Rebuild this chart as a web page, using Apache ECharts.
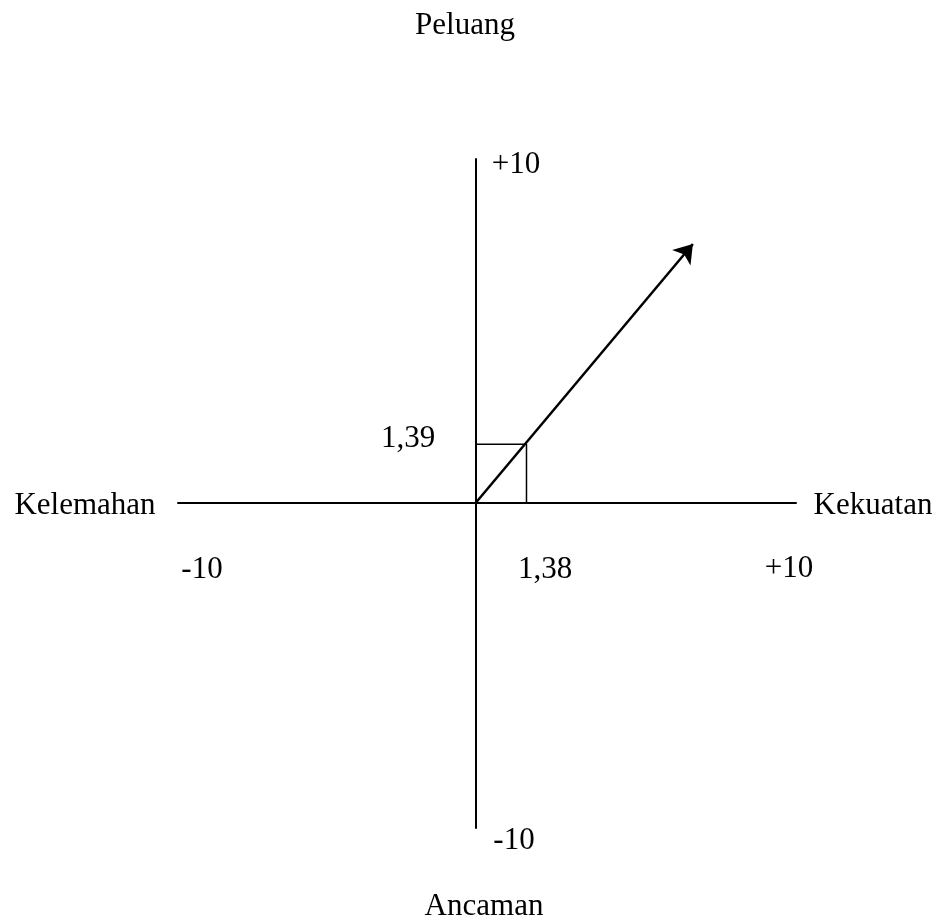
<!DOCTYPE html>
<html>
<head>
<meta charset="utf-8">
<script src="https://cdn.jsdelivr.net/npm/echarts@6/dist/echarts.min.js"></script>
<style>
  html, body { margin: 0; padding: 0; background: #fff; }
  #swot { width: 942px; height: 922px; }
</style>
</head>
<body>
<div id="swot"></div>
<script>
// axis titles: right, left, top, bottom
const axisNames = ['Kekuatan', 'Kelemahan', 'Peluang', 'Ancaman'];
// end marks: right, left, top, bottom
const endLabels = ['+10', '-10', '+10', '-10'];
// internal (x) and external (y) score
const scorePoint = [1.38, 1.39];
// arrow tip (diagram is not to scale)
const arrowTip = [5.93, 6.17];
// drawn extent of the axes
const xRange = [-8.15, 8.75];
const yRange = [-7.77, 8.2];

const font = '31px "Liberation Serif", "Times New Roman", serif';

// comma as decimal separator
function fmt(v) {
  return String(v).replace('.', ',');
}

function label(text, x, y) {
  return {
    type: 'text',
    x: x,
    y: y,
    silent: true,
    style: {
      text: text,
      font: font,
      fill: '#000',
      align: 'center',
      verticalAlign: 'middle',
      textAlign: 'center',
      textVerticalAlign: 'middle'
    }
  };
}

const myChart = echarts.init(document.getElementById('swot'), null, {renderer: 'canvas'});

const axisCommon = {
  type: 'value',
  axisLine: {show: true, onZero: true, lineStyle: {color: '#000', width: 2}},
  axisTick: {show: false},
  axisLabel: {show: false},
  splitLine: {show: false}
};

myChart.setOption({
  backgroundColor: '#fff',
  animation: false,
  grid: {left: 178, right: 146, top: 159, bottom: 94},
  xAxis: Object.assign({}, axisCommon, {min: xRange[0], max: xRange[1]}),
  yAxis: Object.assign({}, axisCommon, {min: yRange[0], max: yRange[1]}),
  series: [
    {
      // box from the score to both axes
      type: 'line',
      symbol: 'none',
      silent: true,
      lineStyle: {color: '#000', width: 1.5},
      data: [[0, scorePoint[1]], [scorePoint[0], scorePoint[1]], [scorePoint[0], 0]]
    },
    {
      // direction arrow
      type: 'line',
      symbol: 'none',
      data: [],
      markLine: {
        silent: true,
        symbol: ['none', 'arrow'],
        symbolSize: 18,
        label: {show: false},
        lineStyle: {color: '#000', width: 2.5, type: 'solid'},
        emphasis: {disabled: true},
        data: [[{coord: [0, 0]}, {coord: arrowTip}]]
      }
    }
  ],
  graphic: [
    label(axisNames[2], 465, 26),
    label(axisNames[3], 484, 907),
    label(axisNames[1], 85, 506),
    label(axisNames[0], 873, 506),
    label(endLabels[1], 202, 570),
    label(endLabels[0], 789, 569),
    label(endLabels[2], 516, 165),
    label(endLabels[3], 514, 841),
    label(fmt(scorePoint[1]), 408, 439),
    label(fmt(scorePoint[0]), 545, 570)
  ]
});

window.onresize = function () {
  myChart.resize();
};
</script>
</body>
</html>
